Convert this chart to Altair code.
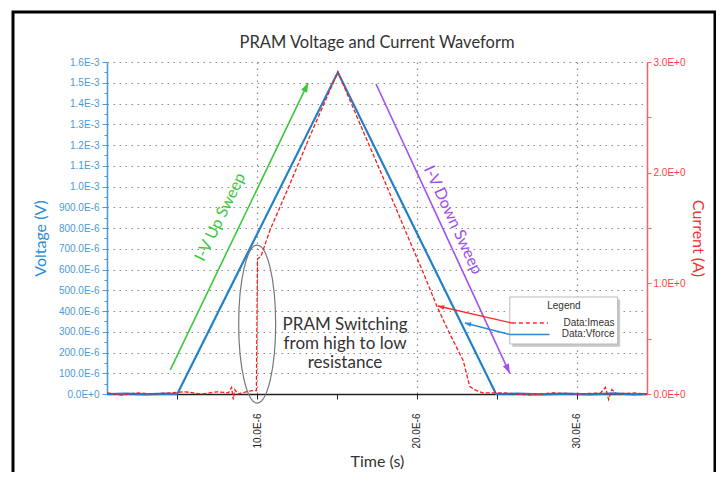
import math
import altair as alt
import pandas as pd

# ---------------- data (time in microseconds) ----------------
vforce_time_us = [0.6, 1.8, 3.0, 4.2, 5.0, 15.05, 24.95, 26.3, 27.8, 29.3, 30.8, 32.3, 33.6, 34.4]
vforce_volt = [0.0, 0.002e-3, -0.002e-3, 0.002e-3, 0.0, 1.55e-3, 0.0,
               0.002e-3, -0.002e-3, 0.002e-3, -0.002e-3, 0.003e-3, -0.002e-3, 0.0]

imeas_time_us = [0.6, 1.5, 2.5, 3.5, 4.5, 5.5, 6.5, 7.5, 8.2, 8.4, 8.5, 8.6, 8.8, 9.3, 9.7,
                 9.95, 10.02, 10.25, 10.8, 12.0, 13.3, 15.05, 16.5, 17.9, 19.35, 20.5, 21.23,
                 22.0, 22.9, 23.3, 23.6, 24.1, 25.5, 27.0, 28.5, 30.0, 31.5, 31.8, 32.0, 32.2,
                 32.5, 33.5, 34.4]
imeas_current = [0.01, -0.01, 0.01, 0.0, 0.01, 0.02, 0.0, 0.02, 0.01, 0.06, -0.05, 0.04, 0.0,
                 0.02, 0.03, 0.03, 1.22, 1.25, 1.48, 1.88, 2.33, 2.91, 2.42, 1.95, 1.45, 1.06,
                 0.80, 0.56, 0.30, 0.07, 0.04, 0.01, 0.01, -0.01, 0.01, 0.0, 0.01, 0.06, -0.05,
                 0.04, 0.0, 0.01, 0.0]

x_ticks_us = [5, 10, 15, 20, 25, 30]
v_ticks = [round(i * 0.05e-3, 8) for i in range(33)]
i_ticks = [0, 0.5, 1.0, 1.5, 2.0, 2.5, 3.0]

# annotation geometry (in data units: us, V)
up_arrow_t, up_arrow_v = [4.56, 13.19], [0.116e-3, 1.499e-3]
down_arrow_t, down_arrow_v = [17.44, 25.81], [1.494e-3, 0.0998e-3]
imeas_ptr_t, imeas_ptr_v = [25.94, 21.31], [0.342e-3, 0.424e-3]
vforce_ptr_t, vforce_ptr_v = [25.81, 23.0], [0.287e-3, 0.342e-3]

X_DOM = [0.6, 34.4]
V_DOM = [0, 1.6e-3]
W, H = 540, 332
PX_T = W / (X_DOM[1] - X_DOM[0])
PX_V = H / (V_DOM[1] - V_DOM[0])

BLUE = "#1f7fc8"
BLUE_AX = "#4a9ad8"
RED = "#ff1a1a"
RED_AX = "#ff6060"
GREEN = "#3cc83c"
PURPLE = "#a050f0"

major_v = "abs(datum.value*1e4 - round(datum.value*1e4)) < 0.01"
x_enc = alt.X(
    "t:Q",
    scale=alt.Scale(domain=X_DOM, nice=False, zero=False),
    axis=alt.Axis(
        values=x_ticks_us,
        title="Time (s)",
        labelExpr="datum.value % 10 == 0 ? format(datum.value, '.1f') + 'E-6' : ''",
        labelAngle=270, labelAlign="right", labelBaseline="middle",
        labelPadding=14, tickSize=5, tickColor="#222", domainColor="#222", domainWidth=1.5,
        labelColor="#222", labelOverlap=False,
        grid=True,
        gridOpacity={"condition": {"test": "datum.value % 10 == 0", "value": 1}, "value": 0},
        gridDash=[1.5, 4.5], gridColor="#888", gridWidth=1.2,
        titleColor="#333", titleFontSize=16, titleX=270, titleY=67,
        titleBaseline="middle", titleAlign="center",
    ),
)
v_enc = alt.Y(
    "v:Q",
    scale=alt.Scale(domain=V_DOM, nice=False),
    axis=alt.Axis(
        values=v_ticks,
        title="Voltage (V)",
        labelExpr=("!(" + major_v + ") ? '' : (datum.value < 1e-9 ? '0.0E+0' : "
                   "(datum.value >= 0.00099 ? format(datum.value*1e3, '.1f') + 'E-3' : "
                   "format(datum.value*1e6, '.1f') + 'E-6'))"),
        labelColor=BLUE_AX, labelPadding=3, labelOverlap=False,
        domainColor=BLUE_AX, domainWidth=1.5, tickColor=BLUE_AX,
        tickSize={"condition": {"test": major_v, "value": 5}, "value": 3},
        grid=True,
        gridOpacity={"condition": {"test": major_v, "value": 1}, "value": 0},
        gridDash=[1.5, 4.5], gridColor="#888", gridWidth=1.2,
        titleColor="#2a8ad4", titleFontSize=16, titleAngle=270,
        titleX=-67, titleY=176, titleAlign="center", titleBaseline="middle",
    ),
)
i_enc = alt.Y(
    "i:Q",
    scale=alt.Scale(domain=[0, 3.0], nice=False),
    axis=alt.Axis(
        orient="right",
        values=i_ticks,
        title="Current (A)",
        labelExpr="datum.value % 1 == 0 ? format(datum.value, '.1f') + 'E+0' : ''",
        labelColor="#ff4040", labelPadding=2, labelOverlap=False,
        domainColor=RED_AX, domainWidth=1.5, tickColor=RED_AX, tickSize=4,
        grid=False,
        titleColor="#ee3030", titleFontSize=16, titleAngle=90,
        titleX=50, titleY=176, titleAlign="center", titleBaseline="middle",
    ),
)

vforce_df = pd.DataFrame({"t": vforce_time_us, "v": vforce_volt})
imeas_df = pd.DataFrame({"t": imeas_time_us, "i": imeas_current})

frame = alt.Chart(pd.DataFrame({"a": [0]})).mark_rect(
    filled=False, stroke="black", strokeWidth=3
).encode(x=alt.value(-94), x2=alt.value(608), y=alt.value(-50), y2=alt.value(440))

vforce_line = alt.Chart(vforce_df).mark_line(color=BLUE, strokeWidth=2.2).encode(x=x_enc, y=v_enc)

ARROW_HEAD = "M0,0 L-0.55,1.5 L0.55,1.5 Z"


def arrow(ts, vs, color, width, head_size):
    df = pd.DataFrame({"t": ts, "v": vs})
    line = alt.Chart(df).mark_line(color=color, strokeWidth=width).encode(x=x_enc, y=v_enc)
    dx = (ts[1] - ts[0]) * PX_T
    dy = (vs[1] - vs[0]) * PX_V
    ang = math.degrees(math.atan2(dx, dy)) % 360
    head = alt.Chart(df.iloc[[1]]).mark_point(
        shape=ARROW_HEAD, size=head_size, filled=True, color=color, opacity=1, angle=ang
    ).encode(x=x_enc, y=v_enc)
    return [line, head]


def label(text, t, v, **kw):
    return alt.Chart(pd.DataFrame({"t": [t], "v": [v], "txt": [text]})).mark_text(**kw).encode(
        x=x_enc, y=v_enc, text="txt:N")


layers = [frame, vforce_line]
layers += arrow(up_arrow_t, up_arrow_v, GREEN, 1.6, 150)
layers += arrow(down_arrow_t, down_arrow_v, PURPLE, 1.6, 150)
layers.append(label("I-V Up Sweep", 7.69, 0.853e-3, angle=296, color=GREEN, font="Lato",
                    fontSize=16, align="center", baseline="middle"))
layers.append(label("I-V Down Sweep", 22.25, 0.8385e-3, angle=65, color=PURPLE, font="Lato",
                    fontSize=16, align="center", baseline="middle"))
layers.append(label("PRAM Switching\nfrom high to low\nresistance", 15.5, 0.3325e-3,
                    lineBreak="\n", lineHeight=19, color="#333", font="Lato", fontSize=17,
                    align="center", baseline="middle"))

ELLIPSE = "M-0.234,0 A0.234,1 0 1,0 0.234,0 A0.234,1 0 1,0 -0.234,0 Z"
layers.append(
    alt.Chart(pd.DataFrame({"t": [10.0], "v": [0.337e-3]})).mark_point(
        shape=ELLIPSE, size=24964, filled=False, color="#777", strokeWidth=1.2, opacity=1
    ).encode(x=x_enc, y=v_enc)
)

# manual legend box
box = pd.DataFrame({"t": [25.81], "t2": [32.56], "v": [0.4675e-3], "v2": [0.241e-3]})
shadow = pd.DataFrame({"t": [25.97], "t2": [32.72], "v": [0.455e-3], "v2": [0.228e-3]})
layers.append(alt.Chart(shadow).mark_rect(color="#c8c8c8").encode(
    x=x_enc, x2="t2:Q", y=v_enc, y2="v2:Q"))
layers.append(alt.Chart(box).mark_rect(fill="white", stroke="#bbb", strokeWidth=1).encode(
    x=x_enc, x2="t2:Q", y=v_enc, y2="v2:Q"))
layers.append(label("Legend", 29.2, 0.424e-3, color="#333", font="Liberation Sans",
                    fontSize=10, align="center", baseline="middle"))
layers += arrow(imeas_ptr_t, imeas_ptr_v, "#ff2a2a", 1.4, 70)
layers += arrow(vforce_ptr_t, vforce_ptr_v, "#2a8ad4", 1.4, 70)
layers.append(alt.Chart(pd.DataFrame({"t": [25.94, 28.2], "v": [0.342e-3, 0.342e-3]})).mark_line(
    color="#ff2a2a", strokeWidth=1.4, strokeDash=[4, 3]).encode(x=x_enc, y=v_enc))
layers.append(alt.Chart(pd.DataFrame({"t": [25.81, 28.3], "v": [0.287e-3, 0.287e-3]})).mark_line(
    color="#2a8ad4", strokeWidth=1.6).encode(x=x_enc, y=v_enc))
layers.append(label("Data:Imeas", 32.37, 0.342e-3, color="#333", font="Liberation Sans",
                    fontSize=10, align="right", baseline="middle"))
layers.append(label("Data:Vforce", 32.37, 0.287e-3, color="#333", font="Liberation Sans",
                    fontSize=10, align="right", baseline="middle"))

left_group = alt.layer(*layers)

imeas_line = alt.Chart(imeas_df).mark_line(
    color=RED, strokeWidth=1.3, strokeDash=[4, 2]
).encode(x=x_enc, y=i_enc)

chart = (
    alt.layer(left_group, imeas_line)
    .resolve_scale(y="independent")
    .properties(
        width=W, height=H,
        title=alt.Title("PRAM Voltage and Current Waveform", font="Lato", fontSize=16.5,
                        fontWeight="normal", color="#333", offset=-53.5, baseline="alphabetic",
                        frame="group", anchor="middle"),
        padding={"left": 99, "top": 54, "right": 69, "bottom": 78},
        autosize=alt.AutoSizeParams(type="none"),
    )
    .configure_view(strokeOpacity=0)
    .configure_axis(labelFont="Liberation Sans", labelFontSize=10, titleFont="Lato",
                    titleFontWeight="normal")
)

chart.save("out.html", embed_options={"renderer": "svg", "actions": False})
